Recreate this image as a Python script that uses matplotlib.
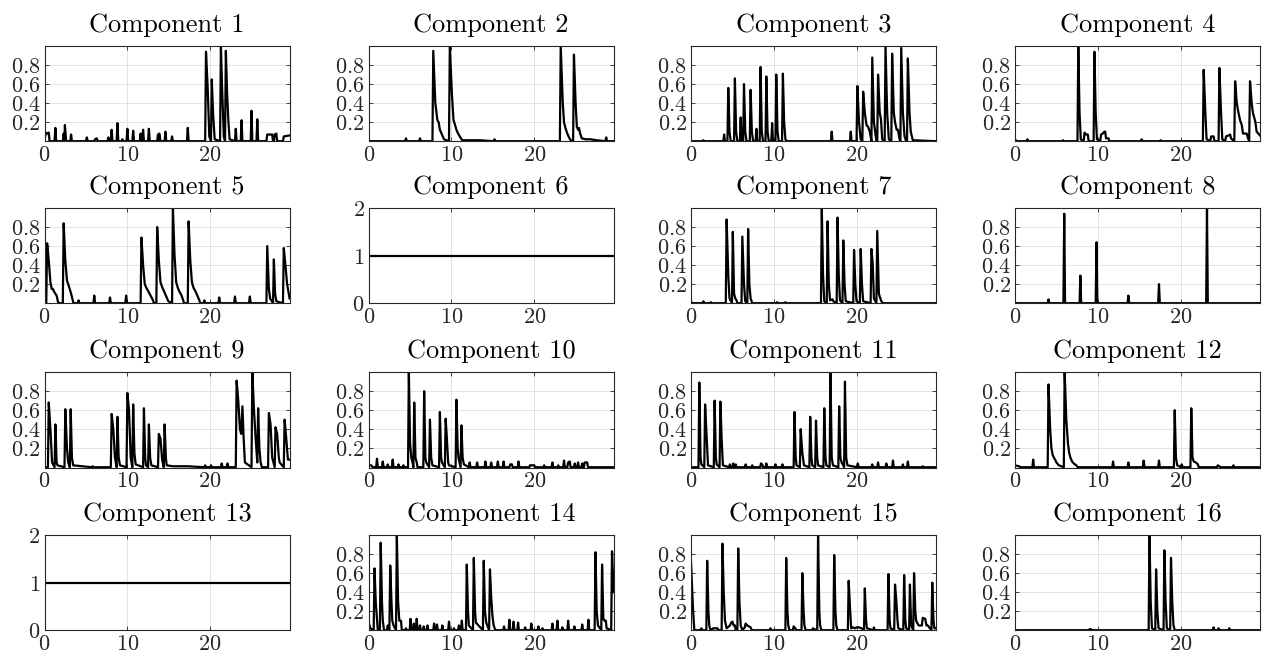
import matplotlib
matplotlib.use("Agg")
import matplotlib.pyplot as plt

# each component: (t, value) vertices
comp1 = [(0, 0.02), (0.15, 0.09), (0.35, 0.08), (0.5, 0.09), (0.6, 0), (1.2, 0), (1.3, 0.14), (1.4, 0),
         (2.2, 0), (2.3, 0.08), (2.4, 0), (2.45, 0.17), (2.6, 0), (3.1, 0), (3.2, 0.07), (3.3, 0),
         (5.0, 0), (5.1, 0.04), (5.2, 0), (6.0, 0), (6.1, 0.02), (6.3, 0.03), (6.4, 0), (7.6, 0),
         (7.7, 0.04), (7.8, 0), (8.0, 0), (8.1, 0.12), (8.2, 0), (8.7, 0), (8.8, 0.19), (8.9, 0),
         (9.3, 0), (9.4, 0.02), (9.5, 0), (9.9, 0), (10.0, 0.13), (10.1, 0), (10.6, 0), (10.7, 0.11),
         (10.8, 0), (11.5, 0), (11.6, 0.08), (11.7, 0), (11.8, 0), (11.9, 0.12), (12.0, 0), (12.5, 0),
         (12.6, 0.13), (12.7, 0), (13.6, 0), (13.7, 0.07), (13.8, 0), (13.85, 0.08), (14.0, 0),
         (14.5, 0), (14.6, 0.1), (14.7, 0), (15.3, 0), (15.4, 0.05), (15.5, 0), (17.2, 0), (17.3, 0.14),
         (17.4, 0), (19.4, 0), (19.5, 0.94), (19.7, 0.57), (19.9, 0.05), (20.1, 0), (20.2, 0.65),
         (20.35, 0.3), (20.55, 0.02), (21.2, 0), (21.3, 1.0), (21.45, 0.55), (21.65, 0.05), (21.8, 0),
         (21.9, 0.95), (22.05, 0.5), (22.2, 0.22), (22.35, 0.02), (23.0, 0), (23.1, 0.13), (23.2, 0),
         (23.7, 0), (23.8, 0.22), (23.9, 0), (24.9, 0), (25.0, 0.32), (25.1, 0), (25.6, 0), (25.7, 0.23),
         (25.8, 0), (26.8, 0), (26.9, 0.07), (27.5, 0.07), (27.6, 0), (27.7, 0), (27.8, 0.07),
         (28.0, 0.08), (28.1, 0), (28.8, 0), (28.9, 0.05), (29.6, 0.06)]

comp2 = [(0, 0), (4.4, 0), (4.5, 0.03), (4.6, 0), (6.1, 0), (6.2, 0.03), (6.3, 0), (7.7, 0), (7.8, 0.95),
         (8.05, 0.4), (8.3, 0.22), (8.45, 0.2), (8.6, 0.12), (8.8, 0.08), (9.1, 0.02), (9.7, 0),
         (9.8, 1.0), (10.05, 0.5), (10.25, 0.22), (10.4, 0.18), (10.6, 0.12), (10.8, 0.08), (11.0, 0.05),
         (11.3, 0.01), (13.4, 0.01), (15.1, 0), (15.2, 0.02), (15.3, 0), (23.1, 0), (23.2, 1.0),
         (23.45, 0.4), (23.6, 0.2), (23.8, 0.13), (24.0, 0.08), (24.2, 0.04), (24.4, 0.01), (24.7, 0),
         (24.8, 0.91), (25.0, 0.4), (25.15, 0.15), (25.3, 0.12), (25.4, 0.14), (25.55, 0.08),
         (25.75, 0.03), (26.2, 0.02), (26.8, 0.02), (27.5, 0.01), (28.6, 0), (28.7, 0.04), (28.8, 0),
         (29.6, 0)]

comp3 = [(0, 0), (1.4, 0), (1.5, 0.01), (1.6, 0), (3.9, 0), (4.0, 0.07), (4.1, 0), (4.4, 0), (4.5, 0.56),
         (4.65, 0.1), (4.8, 0), (5.2, 0), (5.3, 0.66), (5.45, 0.1), (5.6, 0), (5.9, 0), (6.0, 0.25),
         (6.1, 0), (6.3, 0), (6.4, 0.6), (6.55, 0.1), (6.7, 0), (7.1, 0), (7.2, 0.54), (7.35, 0.1),
         (7.5, 0), (7.8, 0), (7.9, 0.13), (8.0, 0), (8.3, 0), (8.4, 0.78), (8.55, 0.1), (8.7, 0),
         (9.0, 0), (9.1, 0.68), (9.25, 0.1), (9.4, 0), (9.7, 0), (9.8, 0.19), (9.9, 0), (10.2, 0),
         (10.3, 0.7), (10.45, 0.1), (10.6, 0), (11.0, 0), (11.1, 0.71), (11.25, 0.2), (11.4, 0.02),
         (11.6, 0), (16.9, 0), (17.0, 0.1), (17.1, 0), (19.2, 0), (19.3, 0.1), (19.4, 0), (20.0, 0),
         (20.1, 0.58), (20.3, 0.2), (20.5, 0.02), (20.7, 0), (20.8, 0.52), (21.0, 0.3), (21.2, 0.17),
         (21.4, 0.15), (21.6, 0.1), (21.8, 0), (21.9, 0.88), (22.1, 0.2), (22.4, 0), (22.5, 0),
         (22.6, 0.7), (22.8, 0.3), (22.95, 0.23), (23.1, 0.02), (23.4, 0), (23.5, 1.0), (23.7, 0.3),
         (23.9, 0.02), (24.2, 0), (24.3, 0.92), (24.5, 0.3), (24.65, 0.2), (24.85, 0.12), (25.0, 0.12),
         (25.2, 0.02), (25.3, 0), (25.4, 0.98), (25.6, 0.3), (25.8, 0.05), (26.0, 0), (26.1, 0),
         (26.2, 0.87), (26.4, 0.3), (26.55, 0.1), (26.8, 0.01), (29.6, 0)]

comp4 = [(0, 0.02), (0.2, 0), (1.4, 0), (1.5, 0.02), (1.6, 0), (5.7, 0), (5.8, 0.01), (5.9, 0), (7.55, 0),
         (7.65, 1.0), (7.8, 0.3), (7.95, 0.02), (8.3, 0), (8.4, 0.09), (8.6, 0.07), (8.8, 0.07), (8.9, 0),
         (9.5, 0), (9.6, 0.94), (9.75, 0.3), (9.9, 0.02), (10.3, 0), (10.4, 0.07), (10.6, 0.08),
         (10.8, 0.1), (10.9, 0.1), (11.0, 0.03), (11.3, 0.03), (11.4, 0), (15.2, 0), (15.3, 0.02),
         (15.4, 0), (17.5, 0), (17.6, 0.01), (17.7, 0), (22.7, 0), (22.8, 0.75), (23.0, 0.3),
         (23.15, 0.02), (23.6, 0), (23.7, 0.05), (24.0, 0.05), (24.1, 0), (24.6, 0), (24.7, 0.77),
         (24.9, 0.3), (25.05, 0.02), (25.4, 0), (25.5, 0.05), (25.8, 0.06), (26.0, 0.07), (26.1, 0.03),
         (26.5, 0), (26.6, 0.63), (26.8, 0.4), (27.0, 0.3), (27.2, 0.22), (27.4, 0.17), (27.55, 0.08),
         (28.0, 0.08), (28.2, 0.02), (28.3, 0), (28.4, 0.63), (28.6, 0.4), (28.75, 0.3), (28.9, 0.25),
         (29.05, 0.2), (29.2, 0.1), (29.6, 0.06)]

comp5 = [(0, 0), (0.2, 0), (0.3, 0.63), (0.5, 0.45), (0.7, 0.22), (0.85, 0.15), (1.0, 0.15), (1.15, 0.12),
         (1.3, 0.1), (1.45, 0.08), (1.6, 0.02), (1.7, 0), (2.2, 0), (2.3, 0.84), (2.5, 0.45), (2.7, 0.24),
         (2.85, 0.2), (3.0, 0.16), (3.2, 0.1), (3.4, 0.03), (3.5, 0), (4.0, 0), (4.1, 0.03), (4.2, 0),
         (5.9, 0), (6.0, 0.08), (6.1, 0), (7.8, 0), (7.9, 0.06), (8.0, 0), (9.75, 0), (9.85, 0.08),
         (9.95, 0), (11.6, 0), (11.7, 0.69), (11.9, 0.4), (12.1, 0.2), (12.3, 0.16), (12.5, 0.13),
         (12.8, 0.08), (13.1, 0.03), (13.2, 0), (13.5, 0), (13.6, 0.8), (13.8, 0.45), (14.0, 0.22),
         (14.2, 0.17), (14.4, 0.13), (14.7, 0.07), (14.95, 0.02), (15.4, 0), (15.5, 1.0), (15.7, 0.5),
         (15.9, 0.22), (16.1, 0.16), (16.3, 0.12), (16.5, 0.09), (16.75, 0.03), (16.85, 0), (17.3, 0),
         (17.4, 0.86), (17.6, 0.45), (17.8, 0.22), (18.0, 0.16), (18.2, 0.13), (18.4, 0.09), (18.7, 0.03),
         (18.8, 0), (19.2, 0), (19.3, 0.03), (19.4, 0), (21.0, 0), (21.1, 0.06), (21.2, 0), (22.9, 0),
         (23.0, 0.07), (23.1, 0), (24.7, 0), (24.8, 0.07), (24.9, 0), (26.8, 0), (26.9, 0.6),
         (27.1, 0.15), (27.25, 0.05), (27.6, 0), (27.7, 0.46), (27.85, 0.1), (28.0, 0.02), (28.8, 0),
         (28.9, 0.58), (29.1, 0.4), (29.3, 0.2), (29.6, 0.05)]

comp6 = [(0, 1), (29.6, 1)]

comp7 = [(0, 0.02), (0.1, 0), (1.4, 0), (1.5, 0.02), (1.6, 0), (2.3, 0), (2.4, 0.01), (2.5, 0), (4.2, 0),
         (4.3, 0.88), (4.5, 0.3), (4.65, 0.05), (4.95, 0), (5.05, 0.75), (5.2, 0.1), (5.35, 0.05),
         (5.5, 0.03), (5.6, 0), (6.1, 0), (6.2, 0.7), (6.4, 0.2), (6.55, 0.02), (6.8, 0), (6.9, 0.78),
         (7.05, 0.2), (7.2, 0.05), (7.4, 0), (10.3, 0), (10.4, 0.01), (10.5, 0), (11.3, 0), (11.4, 0.01),
         (11.5, 0), (15.7, 0), (15.8, 1.0), (15.95, 0.3), (16.1, 0.02), (16.4, 0), (16.5, 0.86),
         (16.65, 0.2), (16.8, 0.03), (17.1, 0.04), (17.2, 0.02), (17.6, 0), (17.7, 0.9), (17.85, 0.3),
         (18.0, 0.03), (18.3, 0), (18.4, 0.66), (18.55, 0.2), (18.7, 0.02), (19.6, 0), (19.7, 0.56),
         (19.85, 0.2), (20.0, 0.02), (20.4, 0), (20.5, 0.57), (20.65, 0.2), (20.8, 0.02), (21.7, 0),
         (21.8, 0.57), (21.95, 0.42), (22.1, 0.05), (22.4, 0), (22.5, 0.76), (22.7, 0.1), (22.8, 0.07),
         (23.0, 0.02), (23.2, 0), (29.6, 0)]

comp8 = [(0, 0), (3.95, 0), (4.05, 0.04), (4.15, 0), (5.85, 0), (5.95, 0.94), (6.05, 0), (7.8, 0),
         (7.9, 0.29), (8.0, 0), (9.75, 0), (9.85, 0.64), (9.95, 0), (13.6, 0), (13.7, 0.08), (13.8, 0),
         (17.3, 0), (17.4, 0.2), (17.5, 0), (23.1, 0), (23.2, 1.0), (23.3, 0), (29.6, 0)]

comp9 = [(0, 0), (0.4, 0), (0.5, 0.68), (0.7, 0.4), (0.9, 0.05), (1.2, 0), (1.3, 0.45), (1.45, 0.05),
         (1.55, 0.02), (2.4, 0), (2.5, 0.61), (2.7, 0.2), (2.85, 0.05), (3.05, 0), (3.15, 0.61),
         (3.3, 0.1), (3.45, 0.02), (5.7, 0), (5.8, 0.01), (5.9, 0), (8.0, 0), (8.1, 0.56), (8.3, 0.4),
         (8.5, 0.1), (8.6, 0.05), (8.7, 0), (8.8, 0.53), (8.95, 0.1), (9.1, 0.02), (9.9, 0), (10.0, 0.78),
         (10.2, 0.6), (10.4, 0.1), (10.6, 0), (10.7, 0.66), (10.85, 0.15), (11.0, 0.03), (11.9, 0),
         (12.0, 0.62), (12.15, 0.1), (12.25, 0.02), (12.5, 0), (12.6, 0.45), (12.75, 0.1), (12.9, 0.02),
         (13.7, 0), (13.8, 0.35), (14.0, 0.3), (14.2, 0.08), (14.4, 0), (14.5, 0.45), (14.65, 0.1),
         (14.75, 0.02), (15.5, 0.01), (17.3, 0.01), (19.3, 0), (19.4, 0.02), (19.5, 0), (20.0, 0),
         (20.1, 0.02), (20.2, 0), (21.3, 0), (21.4, 0.04), (21.5, 0), (22.0, 0), (22.1, 0.04), (22.2, 0),
         (23.1, 0), (23.2, 0.91), (23.4, 0.7), (23.6, 0.4), (23.75, 0.35), (23.9, 0.64), (24.05, 0.3),
         (24.2, 0.05), (25.0, 0), (25.1, 1.0), (25.3, 0.6), (25.5, 0.3), (25.7, 0.05), (25.8, 0.62),
         (25.95, 0.2), (26.1, 0.05), (26.25, 0), (27.0, 0), (27.1, 0.57), (27.3, 0.45), (27.5, 0.1),
         (27.8, 0), (27.9, 0.42), (28.1, 0.35), (28.3, 0.1), (28.4, 0.05), (28.9, 0), (29.0, 0.5),
         (29.2, 0.3), (29.4, 0.08), (29.6, 0.08)]

comp10 = [(0, 0.02), (0.3, 0.02), (0.5, 0), (0.9, 0), (1.0, 0.09), (1.1, 0), (1.6, 0), (1.7, 0.06), (1.8, 0),
          (2.2, 0), (2.3, 0.03), (2.4, 0), (2.8, 0), (2.9, 0.08), (3.0, 0), (3.5, 0), (3.6, 0.03), (3.7, 0),
          (4.1, 0), (4.2, 0.02), (4.3, 0), (4.75, 0), (4.85, 1.0), (5.0, 0.25), (5.15, 0.1), (5.3, 0.05),
          (5.4, 0), (5.5, 0.68), (5.65, 0.1), (5.8, 0.05), (5.9, 0), (6.6, 0), (6.7, 0.8), (6.85, 0.1),
          (6.95, 0.05), (7.3, 0), (7.4, 0.5), (7.55, 0.1), (7.7, 0.02), (8.5, 0), (8.6, 0.58),
          (8.75, 0.1), (8.85, 0.05), (9.2, 0), (9.3, 0.51), (9.45, 0.3), (9.6, 0.05), (9.7, 0.02),
          (10.5, 0), (10.6, 0.71), (10.75, 0.2), (10.85, 0.1), (11.1, 0), (11.2, 0.44), (11.35, 0.1),
          (11.5, 0.03), (12.1, 0), (12.2, 0.05), (12.3, 0), (13.0, 0), (13.1, 0.05), (13.2, 0),
          (14.0, 0), (14.1, 0.06), (14.2, 0), (14.7, 0), (14.8, 0.05), (14.9, 0), (15.5, 0), (15.6, 0.06),
          (15.7, 0), (16.2, 0), (16.3, 0.06), (16.4, 0), (17.0, 0), (17.1, 0.03), (17.3, 0.03), (17.4, 0),
          (18.0, 0), (18.1, 0.06), (18.2, 0), (19.4, 0), (19.5, 0.02), (20.0, 0.02), (20.1, 0), (21.1, 0),
          (21.2, 0.02), (21.3, 0), (22.1, 0), (22.2, 0.05), (22.3, 0), (22.8, 0), (22.9, 0.02), (23.0, 0),
          (23.5, 0), (23.6, 0.07), (23.7, 0), (24.0, 0), (24.1, 0.05), (24.3, 0.06), (24.4, 0), (24.8, 0),
          (24.9, 0.04), (25.0, 0), (25.2, 0), (25.3, 0.05), (25.4, 0), (25.7, 0), (25.8, 0.04), (25.9, 0),
          (26.0, 0), (26.1, 0.05), (26.4, 0.05), (26.5, 0), (29.6, 0)]

comp11 = [(0, 0), (0.9, 0), (1.0, 0.89), (1.15, 0.1), (1.25, 0.03), (1.6, 0), (1.7, 0.66), (1.9, 0.3),
          (2.05, 0.02), (2.75, 0), (2.85, 0.7), (3.0, 0.1), (3.1, 0.03), (3.45, 0), (3.55, 0.69),
          (3.7, 0.3), (3.85, 0.02), (4.6, 0), (4.7, 0.03), (4.8, 0), (5.0, 0), (5.1, 0.04), (5.2, 0),
          (5.3, 0), (5.4, 0.03), (5.5, 0), (6.5, 0), (6.6, 0.03), (6.7, 0), (7.3, 0), (7.4, 0.02), (7.5, 0),
          (8.35, 0), (8.45, 0.04), (8.6, 0.03), (8.7, 0), (9.0, 0), (9.1, 0.04), (9.2, 0), (10.1, 0),
          (10.2, 0.03), (10.3, 0), (10.95, 0), (11.05, 0.03), (11.15, 0), (12.4, 0), (12.5, 0.58),
          (12.65, 0.1), (12.75, 0.02), (13.15, 0), (13.25, 0.4), (13.45, 0.15), (13.65, 0.02), (14.3, 0),
          (14.4, 0.53), (14.55, 0.1), (14.65, 0.02), (15.0, 0), (15.1, 0.49), (15.25, 0.1), (15.35, 0.02),
          (16.0, 0), (16.1, 0.62), (16.25, 0.1), (16.35, 0.02), (16.75, 0), (16.85, 1.0), (17.0, 0.1),
          (17.15, 0.02), (17.8, 0), (17.9, 0.64), (18.05, 0.1), (18.2, 0.05), (18.5, 0), (18.6, 0.9),
          (18.75, 0.1), (18.9, 0.02), (20.05, 0), (20.15, 0.04), (20.25, 0), (21.8, 0), (21.9, 0.03),
          (22.0, 0), (22.5, 0), (22.6, 0.05), (22.7, 0), (23.5, 0), (23.6, 0.04), (23.7, 0), (24.3, 0),
          (24.4, 0.07), (24.5, 0), (25.5, 0), (25.6, 0.03), (25.7, 0), (26.1, 0), (26.2, 0.06), (26.3, 0),
          (27.9, 0), (28.0, 0.01), (28.1, 0), (29.6, 0)]

comp12 = [(0, 0.02), (0.5, 0.01), (0.6, 0), (2.1, 0), (2.2, 0.08), (2.3, 0), (3.95, 0), (4.05, 0.87),
          (4.25, 0.4), (4.4, 0.2), (4.55, 0.13), (4.7, 0.1), (4.85, 0.08), (5.0, 0.05), (5.3, 0.02),
          (5.9, 0), (6.0, 1.0), (6.2, 0.5), (6.4, 0.25), (6.55, 0.15), (6.7, 0.1), (6.9, 0.06),
          (7.1, 0.04), (7.4, 0.02), (7.6, 0), (11.75, 0), (11.85, 0.06), (11.95, 0), (13.6, 0),
          (13.7, 0.05), (13.8, 0), (15.45, 0), (15.55, 0.07), (15.65, 0), (17.3, 0), (17.4, 0.07),
          (17.5, 0), (19.2, 0), (19.3, 0.6), (19.45, 0.1), (19.6, 0.02), (20.05, 0), (20.15, 0.03),
          (20.25, 0), (21.2, 0), (21.3, 0.62), (21.45, 0.1), (21.6, 0.06), (21.85, 0.05), (22.1, 0.03),
          (22.2, 0), (24.4, 0), (24.5, 0.02), (24.7, 0.01), (24.8, 0), (26.3, 0), (26.4, 0.02),
          (26.5, 0), (29.6, 0)]

comp13 = [(0, 1), (29.6, 1)]

comp14 = [(0, 0.08), (0.2, 0.02), (0.6, 0), (0.7, 0.65), (0.85, 0.3), (1.0, 0.12), (1.1, 0), (1.35, 0),
          (1.45, 0.92), (1.6, 0.3), (1.7, 0.1), (1.85, 0), (2.2, 0), (2.3, 0.05), (2.45, 0), (2.5, 0),
          (2.6, 0.68), (2.75, 0.3), (2.85, 0.1), (3.0, 0.05), (3.3, 0), (3.4, 1.0), (3.55, 0.3),
          (3.7, 0.1), (3.9, 0.1), (4.0, 0), (4.4, 0), (4.5, 0.02), (4.6, 0), (4.95, 0), (5.05, 0.12),
          (5.15, 0), (5.35, 0), (5.45, 0.07), (5.55, 0), (5.7, 0), (5.8, 0.12), (5.9, 0), (6.1, 0),
          (6.2, 0.05), (6.3, 0), (6.55, 0), (6.65, 0.04), (6.75, 0), (7.0, 0), (7.1, 0.05), (7.2, 0),
          (7.8, 0), (7.9, 0.07), (8.0, 0), (8.15, 0), (8.25, 0.06), (8.35, 0), (8.8, 0), (8.9, 0.05),
          (9.0, 0), (9.6, 0), (9.7, 0.09), (9.8, 0), (10.2, 0), (10.3, 0.02), (10.4, 0), (10.8, 0),
          (10.9, 0.05), (11.0, 0), (11.15, 0), (11.25, 0.1), (11.35, 0), (11.75, 0), (11.85, 0.69),
          (12.0, 0.2), (12.1, 0.05), (12.6, 0), (12.7, 0.76), (12.85, 0.2), (12.95, 0.08), (13.8, 0),
          (13.9, 0.73), (14.05, 0.2), (14.2, 0.08), (14.55, 0), (14.65, 0.64), (14.8, 0.35), (14.95, 0.15),
          (15.1, 0.05), (15.3, 0), (16.25, 0), (16.35, 0.04), (16.45, 0), (16.9, 0), (17.0, 0.11),
          (17.1, 0), (17.4, 0), (17.5, 0.09), (17.6, 0), (17.95, 0), (18.05, 0.08), (18.15, 0), (18.8, 0),
          (18.9, 0.03), (19.0, 0), (19.55, 0), (19.65, 0.07), (19.75, 0), (20.4, 0), (20.5, 0.04),
          (20.6, 0), (20.9, 0), (21.0, 0.02), (21.1, 0), (22.1, 0), (22.2, 0.07), (22.3, 0), (22.7, 0),
          (22.8, 0.1), (22.9, 0), (23.3, 0), (23.4, 0.03), (23.5, 0), (24.0, 0), (24.1, 0.1), (24.2, 0),
          (24.75, 0), (24.85, 0.04), (24.95, 0), (25.7, 0), (25.8, 0.06), (25.9, 0), (26.45, 0),
          (26.55, 0.11), (26.65, 0), (27.3, 0), (27.4, 0.82), (27.55, 0.2), (27.7, 0.05), (28.1, 0),
          (28.2, 0.69), (28.35, 0.12), (28.5, 0.1), (28.65, 0.1), (28.75, 0.02), (29.3, 0), (29.4, 0.83),
          (29.6, 0.4)]

comp15 = [(0, 0.72), (0.15, 0.4), (0.25, 0.2), (0.4, 0), (1.15, 0), (1.25, 0.02), (1.35, 0), (1.85, 0),
          (1.95, 0.73), (2.1, 0.2), (2.2, 0.05), (2.35, 0), (2.7, 0.02), (3.2, 0.02), (3.3, 0), (3.7, 0),
          (3.8, 0.91), (3.95, 0.4), (4.1, 0.1), (4.3, 0.02), (4.7, 0.05), (4.85, 0.08), (5.0, 0.09),
          (5.15, 0.05), (5.3, 0.05), (5.4, 0), (5.6, 0), (5.7, 0.86), (5.85, 0.3), (6.0, 0.05), (6.2, 0),
          (6.5, 0.03), (6.6, 0.07), (6.8, 0.05), (7.0, 0.04), (7.2, 0.03), (7.35, 0), (9.5, 0),
          (9.6, 0.02), (9.7, 0), (11.4, 0), (11.5, 0.76), (11.65, 0.2), (11.75, 0.05), (11.9, 0),
          (12.3, 0), (12.4, 0.04), (12.6, 0.02), (12.7, 0), (13.35, 0), (13.45, 0.6), (13.6, 0.2),
          (13.7, 0.05), (13.85, 0), (14.6, 0), (14.75, 0.02), (14.9, 0.01), (15.25, 0), (15.35, 1.0),
          (15.5, 0.2), (15.6, 0.05), (15.75, 0), (17.2, 0), (17.3, 0.79), (17.45, 0.2), (17.55, 0.05),
          (17.7, 0), (18.95, 0), (19.05, 0.52), (19.2, 0.25), (19.35, 0.02), (19.6, 0.03), (19.8, 0.02),
          (20.0, 0.03), (20.3, 0.03), (20.6, 0.02), (20.9, 0), (21.0, 0.44), (21.15, 0.1), (21.25, 0.02),
          (22.0, 0), (22.1, 0.03), (22.2, 0), (23.75, 0), (23.85, 0.59), (24.0, 0.1), (24.1, 0.02),
          (24.55, 0), (24.65, 0.48), (24.8, 0.32), (24.95, 0.1), (25.05, 0.02), (25.65, 0), (25.75, 0.58),
          (25.9, 0.1), (26.0, 0.02), (26.35, 0), (26.45, 0.48), (26.6, 0.05), (26.85, 0), (26.95, 0.6),
          (27.1, 0.2), (27.2, 0.1), (27.5, 0.05), (27.9, 0.05), (28.0, 0.13), (28.3, 0.12), (28.45, 0.05),
          (28.6, 0.05), (29.05, 0), (29.15, 0.5), (29.3, 0.1), (29.4, 0.02), (29.6, 0.02)]

comp16 = [(0, 0), (8.9, 0), (9.0, 0.01), (9.2, 0.01), (9.3, 0), (16.15, 0), (16.25, 1.0), (16.4, 0.3),
          (16.55, 0.02), (16.95, 0), (17.05, 0.64), (17.2, 0.2), (17.35, 0.02), (17.95, 0), (18.05, 0.84),
          (18.2, 0.3), (18.35, 0.02), (18.75, 0), (18.85, 0.76), (19.0, 0.3), (19.15, 0.05), (19.3, 0),
          (23.9, 0), (24.0, 0.03), (24.1, 0), (24.5, 0), (24.6, 0.02), (24.7, 0), (25.8, 0), (25.9, 0.02),
          (26.0, 0), (29.6, 0)]

components = [comp1, comp2, comp3, comp4, comp5, comp6, comp7, comp8,
              comp9, comp10, comp11, comp12, comp13, comp14, comp15, comp16]
constant_ones = [6, 13]
x_ticks = [0, 10, 20]

plt.rcParams['font.family'] = 'serif'
plt.rcParams['font.serif'] = ['cmr10', 'DejaVu Serif']
plt.rcParams['axes.formatter.use_mathtext'] = True

fig = plt.figure(figsize=(12.64, 6.58), dpi=100)

# grid positions in figure fraction (MATLAB-like subplot layout)
lefts = [0.0353, 0.2917, 0.5467, 0.8030]
bottoms = [0.785, 0.5388, 0.2895, 0.0418]
w, h = 0.1938, 0.145

edge = '#262626'
for i, comp in enumerate(components):
    r, c = divmod(i, 4)
    ax = fig.add_axes([lefts[c], bottoms[r], w, h])
    t = [p[0] for p in comp]
    v = [p[1] for p in comp]
    ax.plot(t, v, color='black', linewidth=1.6)
    ax.set_xlim(0, 29.6)
    if i + 1 in constant_ones:
        ax.set_ylim(0, 2)
        ax.set_yticks([0, 1, 2])
    else:
        ax.set_ylim(-0.003, 1.0)
        ax.set_yticks([0.2, 0.4, 0.6, 0.8])
    ax.set_xticks(x_ticks)
    ax.grid(True, color='#e3e3e3', linewidth=0.7)
    ax.set_axisbelow(True)
    for s in ax.spines.values():
        s.set_color(edge)
        s.set_linewidth(0.8)
    ax.tick_params(direction='in', length=3, width=0.6, colors=edge,
                   labelsize=16, top=True, right=True, pad=3)
    ax.set_title(f'Component {i + 1}', fontsize=19, pad=10)

fig.savefig('out.png', dpi=100)
